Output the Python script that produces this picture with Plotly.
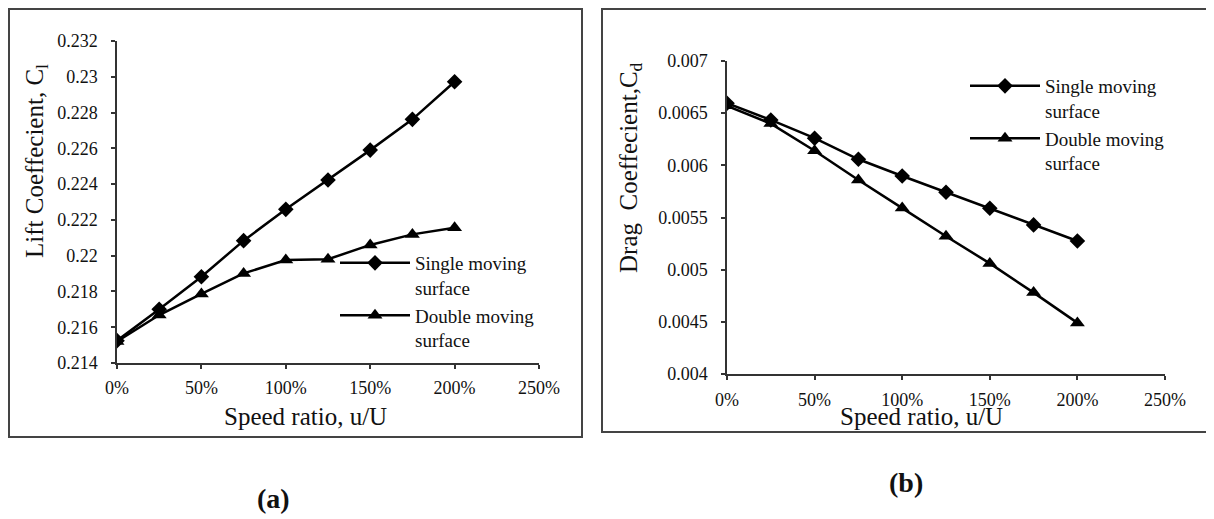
import plotly.graph_objects as go

# page offset of the figure inside the browser window (default body margin)
OX, OY = 8, 8
W, H = 1214 - OX, 519 - OY

# ---- data ----
speed = [0, 0.25, 0.5, 0.75, 1.0, 1.25, 1.5, 1.75, 2.0]
lift_single = [0.21525, 0.2170, 0.21882, 0.22084, 0.22259, 0.22423, 0.2259, 0.22762, 0.22972]
lift_double = [0.2152, 0.21668, 0.21786, 0.21901, 0.21976, 0.2198, 0.2206, 0.22119, 0.22156]
drag_single = [0.006595, 0.006435, 0.00626, 0.006058, 0.005898, 0.005742, 0.005589, 0.005429, 0.005275]
drag_double = [0.00657, 0.0064, 0.00614, 0.00586, 0.00559, 0.00532, 0.00506, 0.00478, 0.00449]

x_tickvals = [0, 0.5, 1.0, 1.5, 2.0, 2.5]
x_ticktext = ["0%", "50%", "100%", "150%", "200%", "250%"]
lift_tickvals = [0.214, 0.216, 0.218, 0.22, 0.222, 0.224, 0.226, 0.228, 0.23, 0.232]
lift_ticktext = ["0.214", "0.216", "0.218", "0.22", "0.222", "0.224", "0.226", "0.228", "0.23", "0.232"]
drag_tickvals = [0.004, 0.0045, 0.005, 0.0055, 0.006, 0.0065, 0.007]
drag_ticktext = ["0.004", "0.0045", "0.005", "0.0055", "0.006", "0.0065", "0.007"]

name_single = "Single moving<br>surface"
name_double = "Double moving<br>surface"

FONT = "Liberation Serif"


def px(x):
    return (x - OX) / W


def py(y):
    return 1 - (y - OY) / H


fig = go.Figure()

line_style = dict(color="black", width=2.5)
diamond = dict(symbol="diamond", size=12, color="black")
triangle = dict(symbol="triangle-up", size=13, color="black")
fig.add_trace(go.Scatter(x=speed, y=lift_single, mode="lines+markers", name=name_single,
                         line=line_style, marker=diamond, xaxis="x", yaxis="y", legend="legend"))
fig.add_trace(go.Scatter(x=speed, y=lift_double, mode="lines+markers", name=name_double,
                         line=line_style, marker=triangle, xaxis="x", yaxis="y", legend="legend"))
fig.add_trace(go.Scatter(x=speed, y=drag_single, mode="lines+markers", name=name_single,
                         line=line_style, marker=diamond, xaxis="x2", yaxis="y2", legend="legend2"))
fig.add_trace(go.Scatter(x=speed, y=drag_double, mode="lines+markers", name=name_double,
                         line=line_style, marker=triangle, xaxis="x2", yaxis="y2", legend="legend2"))

axis_common = dict(showline=True, linecolor="#333", linewidth=1.5, ticks="outside",
                   ticklen=4, tickwidth=1.5, tickcolor="#333", showgrid=False, zeroline=False,
                   automargin=False,
                   tickfont=dict(family=FONT, size=18, color="#111"))

legend_common = dict(xanchor="left", yanchor="top", bgcolor="rgba(0,0,0,0)",
                     font=dict(family=FONT, size=19, color="#111"), itemwidth=70,
                     valign="top", tracegroupgap=0)

fig.update_layout(
    width=W, height=H, autosize=False,
    margin=dict(l=0, r=0, t=0, b=0, pad=0, autoexpand=False),
    paper_bgcolor="white", plot_bgcolor="white",
    font=dict(family=FONT, color="#111"),
    xaxis=dict(domain=[px(117), px(539)], range=[0, 2.5], tickvals=x_tickvals, ticktext=x_ticktext,
               anchor="y", ticklabelstandoff=4, **axis_common),
    yaxis=dict(domain=[py(363), py(41)], range=[0.214, 0.232], tickvals=lift_tickvals,
               ticktext=lift_ticktext, anchor="x", ticklabelstandoff=10, **axis_common),
    xaxis2=dict(domain=[px(727), px(1165)], range=[0, 2.5], tickvals=x_tickvals, ticktext=x_ticktext,
                anchor="y2", ticklabelstandoff=5, **axis_common),
    yaxis2=dict(domain=[py(374), py(61)], range=[0.004, 0.007], tickvals=drag_tickvals,
                ticktext=drag_ticktext, anchor="x2", ticklabelstandoff=10, **axis_common),
    legend=dict(x=px(335), y=py(244), **legend_common),
    legend2=dict(x=px(965), y=py(67), **legend_common),
    showlegend=True,
)

# panel frames
frame = dict(type="rect", xref="paper", yref="paper", line=dict(color="#444", width=2),
             fillcolor="rgba(0,0,0,0)", layer="below")
fig.add_shape(x0=px(9), x1=px(582), y0=py(437), y1=py(9), **frame)
fig.add_shape(x0=px(602), x1=px(1211), y0=py(432), y1=py(9), **frame)

# axis titles and panel labels
ann = dict(xref="paper", yref="paper", showarrow=False, xanchor="center", yanchor="middle")
fig.add_annotation(x=px(37), y=py(161), text="Lift Coeffecient, C<sub>l</sub>", textangle=-90,
                   font=dict(family=FONT, size=25, color="#111"), **ann)
fig.add_annotation(x=px(305), y=py(416), text="Speed ratio, u/U",
                   font=dict(family=FONT, size=25, color="#111"), **ann)
fig.add_annotation(x=px(630), y=py(168), text="Drag\u00a0 Coeffecient,C<sub>d</sub>", textangle=-90,
                   font=dict(family=FONT, size=25, color="#111"), **ann)
fig.add_annotation(x=px(921), y=py(416), text="Speed ratio, u/U",
                   font=dict(family=FONT, size=25, color="#111"), **ann)
fig.add_annotation(x=px(273), y=py(498), text="<b>(a)</b>",
                   font=dict(family=FONT, size=28, color="#111"), **ann)
fig.add_annotation(x=px(906), y=py(482), text="<b>(b)</b>",
                   font=dict(family=FONT, size=28, color="#111"), **ann)

fig.write_html("out.html")
